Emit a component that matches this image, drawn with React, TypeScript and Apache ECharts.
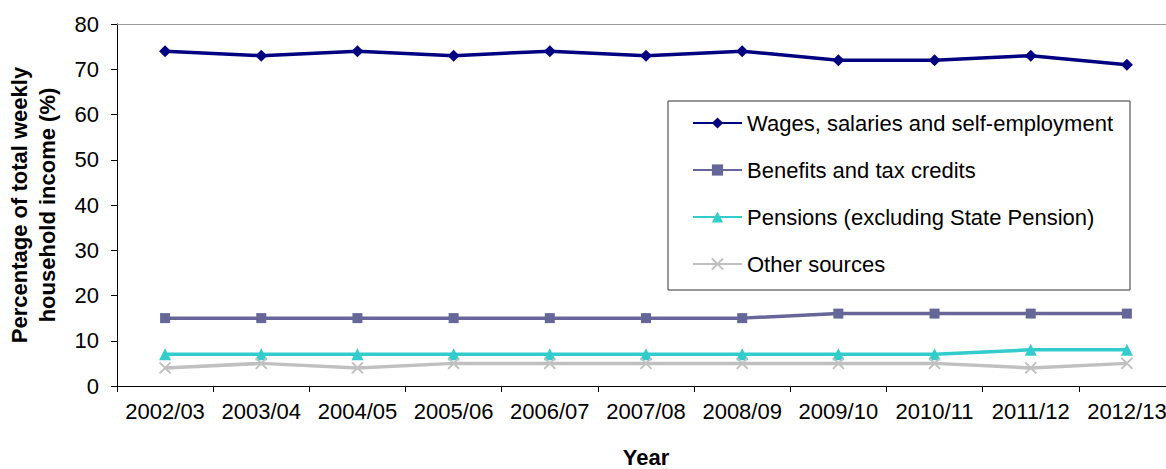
import React, { useEffect, useRef } from "react";
import * as echarts from "echarts";

const years = ["2002/03", "2003/04", "2004/05", "2005/06", "2006/07", "2007/08", "2008/09", "2009/10", "2010/11", "2011/12", "2012/13"];
const wages = [74, 73, 74, 73, 74, 73, 74, 72, 72, 73, 71];
const benefits = [15, 15, 15, 15, 15, 15, 15, 16, 16, 16, 16];
const pensions = [7, 7, 7, 7, 7, 7, 7, 7, 7, 8, 8];
const other = [4, 5, 4, 5, 5, 5, 5, 5, 5, 4, 5];

const seriesNames = [
  "Wages, salaries and self-employment",
  "Benefits and tax credits",
  "Pensions (excluding State Pension)",
  "Other sources",
];

const FONT = "'Liberation Sans', Arial, sans-serif";

export default function App() {
  const ref = useRef<HTMLDivElement>(null);
  useEffect(() => {
    if (!ref.current) return;
    const chart = echarts.init(ref.current, null, { renderer: "svg" });
    const cross = "path://M0 0L10 10M10 0L0 10";
    chart.setOption({
      animation: false,
      textStyle: { fontFamily: FONT },
      grid: { left: 117, top: 24, width: 1058, height: 362, containLabel: false, outerBoundsMode: "none" },
      legend: {
        orient: "vertical",
        left: 668,
        top: 101,
        padding: [11, 17, 15, 24],
        itemWidth: 49,
        itemHeight: 14,
        itemGap: 25,
        backgroundColor: "#fff",
        borderColor: "#333",
        borderWidth: 1,
        borderRadius: 0,
        textStyle: { fontFamily: FONT, fontSize: 22, color: "#000", lineHeight: 22 },
        data: seriesNames,
      },
      xAxis: [
        {
          type: "category",
          data: years,
          boundaryGap: true,
          position: "bottom",
          axisLine: { lineStyle: { color: "#000", width: 1 } },
          axisTick: { show: true, length: 6, lineStyle: { color: "#000" } },
          axisLabel: { fontFamily: FONT, fontSize: 22, color: "#000", margin: 14, interval: 0 },
          name: "Year",
          nameLocation: "middle",
          nameGap: 60,
          nameTextStyle: { fontFamily: FONT, fontSize: 22, fontWeight: "bold", color: "#000", lineHeight: 22 },
          splitLine: { show: false },
        },
        {
          type: "category",
          data: years,
          position: "top",
          axisLine: { lineStyle: { color: "#999", width: 1 } },
          axisTick: { show: false },
          axisLabel: { show: false },
          splitLine: { show: false },
        },
      ],
      yAxis: {
        type: "value",
        min: 0,
        max: 80,
        interval: 10,
        axisLine: { show: true, lineStyle: { color: "#000", width: 1 } },
        axisTick: { show: true, length: 6, lineStyle: { color: "#000" } },
        axisLabel: { fontFamily: FONT, fontSize: 22, color: "#000", margin: 18 },
        splitLine: { show: false },
        name: "Percentage of total weekly\nhousehold income (%)",
        nameLocation: "middle",
        nameRotate: 90,
        nameGap: 56,
        nameTextStyle: { fontFamily: FONT, fontSize: 22, fontWeight: "bold", color: "#000", lineHeight: 28 },
      },
      series: [
        {
          name: seriesNames[0],
          type: "line",
          data: wages,
          symbol: "diamond",
          symbolSize: 12,
          lineStyle: { color: "#000080", width: 3.5 },
          itemStyle: { color: "#000080" },
        },
        {
          name: seriesNames[1],
          type: "line",
          data: benefits,
          symbol: "rect",
          symbolSize: 10,
          lineStyle: { color: "#666699", width: 3.5 },
          itemStyle: { color: "#666699" },
        },
        {
          name: seriesNames[2],
          type: "line",
          data: pensions,
          symbol: "triangle",
          symbolSize: 12,
          lineStyle: { color: "#33CCCC", width: 3.5 },
          itemStyle: { color: "#33CCCC" },
        },
        {
          name: seriesNames[3],
          type: "line",
          data: other,
          symbol: cross,
          symbolSize: 11,
          lineStyle: { color: "#C0C0C0", width: 3.5 },
          itemStyle: { color: "#C0C0C0", borderColor: "#C0C0C0", borderWidth: 2 },
        },
      ],
    });
    return () => chart.dispose();
  }, []);
  return (
    <div
      ref={ref}
      style={{ position: "absolute", left: 0, top: 0, width: 1166, height: 469, background: "#fff" }}
    />
  );
}
